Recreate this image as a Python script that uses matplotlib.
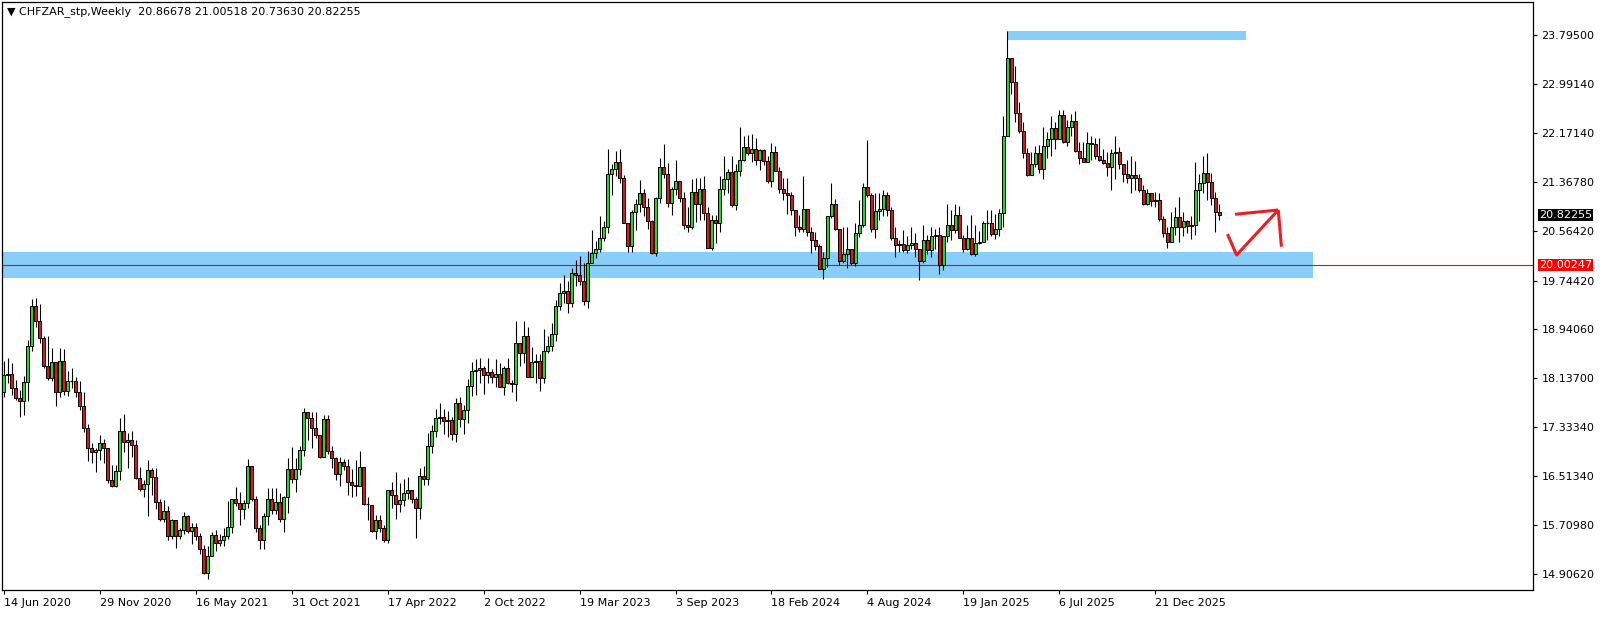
import matplotlib
matplotlib.use("Agg")
import matplotlib.pyplot as plt
from matplotlib.patches import Rectangle

# weekly candles, week 0 = 14 Jun 2020
FIRST_OPEN = 17.90
CLOSE = [
    18.18, 18.21, 17.97, 17.80, 17.76, 18.07, 18.66, 19.32, 19.08, 18.80,
    18.34, 18.14, 18.40, 17.90, 18.42, 17.93, 18.09, 18.08, 17.90, 17.68,
    17.32, 16.98, 16.92, 16.95, 17.06, 16.98, 16.45, 16.35, 16.60, 17.26,
    17.08, 17.11, 17.03, 16.49, 16.30, 16.39, 16.62, 16.50, 16.09, 15.82,
    15.94, 15.54, 15.80, 15.54, 15.63, 15.87, 15.62, 15.68, 15.54, 15.31,
    14.93, 15.21, 15.55, 15.42, 15.47, 15.53, 15.68, 16.14, 16.07, 15.97,
    16.07, 16.68, 16.15, 15.66, 15.47, 15.86, 16.15, 15.96, 16.09, 15.81,
    16.17, 16.63, 16.47, 16.63, 16.95, 17.57, 17.47, 17.32, 17.19, 16.83,
    17.46, 16.94, 16.81, 16.55, 16.75, 16.68, 16.43, 16.37, 16.35, 16.67,
    16.06, 16.05, 15.62, 15.80, 15.67, 15.47, 16.29, 16.21, 16.06, 16.13,
    16.24, 16.29, 16.14, 15.99, 16.52, 16.48, 17.02, 17.26, 17.47, 17.49,
    17.42, 17.44, 17.21, 17.72, 17.46, 17.61, 18.01, 18.25, 18.27, 18.31,
    18.19, 18.23, 18.15, 18.20, 17.99, 18.31, 18.06, 18.04, 18.71, 18.55,
    18.83, 18.16, 18.40, 18.42, 18.14, 18.58, 18.67, 18.86, 19.32, 19.54,
    19.57, 19.37, 19.87, 19.84, 19.74, 19.41, 20.03, 20.19, 20.26, 20.44,
    20.63, 21.50, 21.59, 21.69, 21.44, 20.69, 20.32, 20.87, 21.01, 21.18,
    20.96, 20.73, 20.19, 21.10, 21.61, 21.50, 21.03, 21.26, 21.39, 21.11,
    20.66, 20.63, 21.20, 21.01, 21.25, 20.86, 20.28, 20.75, 20.69, 21.25,
    21.41, 21.53, 20.99, 21.55, 21.73, 21.94, 21.84, 21.91, 21.73, 21.89,
    21.72, 21.39, 21.87, 21.55, 21.25, 21.19, 21.15, 20.90, 20.63, 20.60,
    20.92, 20.55, 20.41, 20.31, 19.94, 20.11, 20.80, 21.00, 20.59, 20.07,
    20.18, 20.26, 20.04, 20.52, 20.66, 21.28, 21.15, 20.60, 20.89, 20.92,
    21.15, 20.90, 20.44, 20.33, 20.35, 20.25, 20.33, 20.36, 20.26, 20.06,
    20.41, 20.24, 20.47, 20.49, 20.00, 20.47, 20.66, 20.57, 20.82, 20.45,
    20.27, 20.45, 20.18, 20.36, 20.38, 20.69, 20.70, 20.51, 20.59, 20.86,
    22.13, 23.41, 23.01, 22.51, 22.21, 21.85, 21.49, 21.66, 21.84, 21.58,
    21.97, 22.08, 22.26, 22.08, 22.47, 22.02, 22.27, 22.37, 21.88, 21.76,
    21.70, 22.01, 21.99, 21.79, 21.73, 21.68, 21.62, 21.84, 21.86, 21.66,
    21.50, 21.44, 21.48, 21.43, 21.24, 21.00, 21.18, 21.05, 21.07, 20.76,
    20.53, 20.38, 20.62, 20.79, 20.63, 20.73, 20.64, 20.66, 21.24, 21.36,
    21.51, 21.37, 21.11, 20.87, 20.82255,
]
HIGH = [
    18.42, 18.46, 18.38, 18.11, 17.94, 18.17, 18.77, 19.44, 19.45, 19.36,
    18.83, 18.83, 18.63, 18.40, 18.63, 18.61, 18.26, 18.30, 18.16, 18.08,
    17.90, 17.38, 17.06, 16.98, 17.20, 17.13, 16.98, 16.70, 16.70, 17.48,
    17.55, 17.23, 17.27, 17.12, 16.67, 16.46, 16.78, 16.65, 16.65, 16.15,
    16.12, 16.02, 15.82, 15.74, 15.66, 15.92, 15.88, 15.74, 15.74, 15.58,
    15.38, 15.36, 15.59, 15.63, 15.57, 15.66, 16.11, 16.15, 16.34, 16.25,
    16.13, 16.80, 16.69, 16.19, 15.71, 15.91, 16.32, 16.32, 16.33, 16.24,
    16.19, 16.81, 17.00, 16.81, 17.02, 17.65, 17.57, 17.57, 17.57, 17.20,
    17.53, 17.53, 17.02, 16.84, 16.84, 16.80, 16.80, 16.63, 16.79, 16.93,
    16.66, 16.18, 16.00, 15.88, 15.88, 15.71, 16.29, 16.42, 16.59, 16.40,
    16.47, 16.51, 16.22, 16.18, 16.65, 16.69, 17.23, 17.36, 17.62, 17.73,
    17.63, 17.59, 17.50, 17.80, 17.82, 17.69, 18.12, 18.40, 18.45, 18.46,
    18.34, 18.46, 18.28, 18.45, 18.38, 18.33, 18.47, 18.10, 19.08, 18.63,
    19.08, 18.98, 18.65, 18.54, 18.54, 18.94, 18.83, 19.05, 19.42, 19.70,
    19.84, 19.73, 19.95, 20.08, 20.15, 20.04, 20.23, 20.58, 20.40, 20.80,
    20.72, 21.91, 21.66, 21.88, 21.92, 21.48, 20.69, 20.91, 21.08, 21.40,
    21.26, 21.10, 20.75, 21.12, 21.76, 21.99, 21.68, 21.29, 21.73, 21.38,
    21.21, 20.96, 21.42, 21.43, 21.43, 21.46, 20.96, 20.82, 20.82, 21.46,
    21.79, 21.59, 21.79, 21.66, 22.27, 22.13, 22.14, 22.16, 22.09, 21.92,
    21.92, 21.79, 22.01, 21.96, 21.62, 21.43, 21.43, 21.21, 20.91, 20.82,
    21.47, 20.91, 20.63, 20.55, 20.34, 20.22, 20.81, 21.36, 21.08, 20.60,
    20.62, 20.63, 20.26, 20.69, 21.07, 21.36, 22.06, 21.18, 21.19, 21.18,
    21.24, 21.21, 20.95, 20.63, 20.41, 20.58, 20.47, 20.62, 20.52, 20.27,
    20.66, 20.49, 20.63, 20.60, 20.62, 20.47, 21.00, 20.91, 21.00, 20.97,
    20.50, 20.66, 20.82, 20.66, 20.56, 20.72, 20.90, 20.90, 20.84, 20.92,
    22.45, 23.86, 23.42, 23.28, 22.69, 22.35, 21.93, 21.87, 21.96, 21.98,
    22.27, 22.20, 22.46, 22.36, 22.55, 22.55, 22.39, 22.49, 22.54, 22.03,
    22.02, 22.19, 22.13, 22.10, 22.10, 21.91, 21.87, 21.91, 22.13, 21.94,
    21.63, 21.73, 21.80, 21.71, 21.50, 21.32, 21.26, 21.19, 21.21, 21.18,
    20.80, 20.62, 20.88, 20.96, 21.12, 20.88, 20.75, 20.81, 21.70, 21.50,
    21.80, 21.84, 21.51, 21.20, 21.00518,
]
LOW = [
    17.82, 18.05, 17.86, 17.78, 17.50, 17.53, 17.76, 18.59, 18.98, 18.72,
    18.30, 18.11, 18.09, 17.68, 17.82, 17.86, 17.84, 17.97, 17.82, 17.61,
    17.25, 16.77, 16.74, 16.59, 16.79, 16.73, 16.40, 16.34, 16.34, 16.46,
    16.92, 16.66, 16.83, 16.47, 16.28, 16.17, 15.87, 16.21, 15.98, 15.78,
    15.77, 15.46, 15.49, 15.33, 15.48, 15.56, 15.58, 15.40, 15.47, 15.23,
    14.91, 14.82, 15.20, 15.29, 15.37, 15.37, 15.49, 15.58, 16.02, 15.72,
    15.82, 16.00, 16.11, 15.60, 15.31, 15.31, 15.71, 15.90, 15.90, 15.77,
    15.60, 15.91, 16.41, 16.26, 16.54, 16.85, 17.11, 16.99, 17.14, 16.81,
    16.88, 16.88, 16.66, 16.46, 16.35, 16.62, 16.21, 16.18, 16.19, 16.47,
    16.04, 15.80, 15.60, 15.48, 15.59, 15.44, 15.41, 15.99, 15.82, 15.93,
    16.03, 16.14, 16.07, 15.50, 15.81, 16.37, 16.37, 16.90, 17.17, 17.38,
    17.22, 17.17, 17.12, 17.09, 17.33, 17.22, 17.40, 17.84, 17.86, 18.05,
    17.88, 18.05, 18.05, 17.99, 17.99, 17.86, 18.04, 17.91, 17.75, 18.33,
    18.39, 18.15, 18.15, 18.06, 17.93, 18.05, 18.55, 18.59, 18.74, 19.25,
    19.38, 19.21, 19.30, 19.65, 19.67, 19.34, 19.29, 20.03, 20.11, 20.21,
    20.40, 20.52, 21.15, 21.47, 21.35, 20.69, 20.21, 20.21, 20.58, 20.88,
    20.81, 20.59, 20.18, 20.15, 21.03, 21.44, 20.96, 20.82, 21.15, 21.04,
    20.59, 20.55, 20.59, 20.71, 20.74, 20.74, 20.28, 20.25, 20.36, 20.55,
    21.15, 21.18, 20.96, 20.90, 21.46, 21.72, 21.81, 21.70, 21.65, 21.57,
    21.65, 21.35, 21.29, 21.55, 21.18, 21.07, 20.84, 20.82, 20.48, 20.55,
    20.55, 20.48, 20.19, 20.25, 19.94, 19.77, 19.96, 20.77, 20.58, 20.00,
    20.03, 19.95, 20.00, 19.99, 20.46, 20.62, 21.12, 20.55, 20.44, 20.74,
    20.81, 20.80, 20.42, 20.13, 20.22, 20.22, 20.20, 20.26, 20.14, 19.75,
    20.04, 20.18, 20.14, 20.27, 19.85, 19.91, 20.38, 20.42, 20.53, 20.44,
    20.22, 20.24, 20.17, 20.15, 20.34, 20.41, 20.41, 20.48, 20.43, 20.48,
    20.62, 22.25, 22.82, 22.35, 22.17, 21.77, 21.46, 21.48, 21.62, 21.52,
    21.42, 21.77, 21.79, 21.92, 22.07, 22.01, 21.96, 22.13, 21.87, 21.66,
    21.70, 21.69, 21.73, 21.74, 21.71, 21.66, 21.46, 21.23, 21.41, 21.58,
    21.37, 21.35, 21.19, 21.23, 21.21, 20.99, 20.99, 20.97, 20.96, 20.73,
    20.46, 20.28, 20.39, 20.50, 20.38, 20.48, 20.52, 20.43, 20.50, 20.73,
    21.19, 21.07, 20.99, 20.55, 20.7363,
]

DATE_TICKS = [0, 24, 48, 72, 96, 120, 144, 168, 192, 216, 240, 264, 288]
DATE_LABELS = ["14 Jun 2020", "29 Nov 2020", "16 May 2021", "31 Oct 2021",
               "17 Apr 2022", "2 Oct 2022", "19 Mar 2023", "3 Sep 2023",
               "18 Feb 2024", "4 Aug 2024", "19 Jan 2025", "6 Jul 2025",
               "21 Dec 2025"]
PRICE_TICKS = [23.795, 22.9914, 22.1714, 21.3678, 20.5642, 19.7442,
               18.9406, 18.137, 17.3334, 16.5134, 15.7098, 14.9062]

TITLE = "CHFZAR_stp,Weekly  20.86678 21.00518 20.73630 20.82255"
LAST_PRICE = 20.82255
LEVEL = 20.00247

# drawn objects (week index, price)
ZONE = (19.79, 20.22, 327.5)          # low, high, right end
TOP_BOX = (251, 310.6, 23.71, 23.86)  # x0, x1, low, high
ARROW_X = [306.0, 308.3, 318.7]
ARROW_Y = [20.51, 20.165, 20.907]
HEAD1_X = [307.9, 318.7]
HEAD1_Y = [20.836, 20.907]
HEAD2_X = [318.7, 319.5]
HEAD2_Y = [20.907, 20.302]

BULL = "#33cc33"
BEAR = "#dd1515"
ZONE_C = "#87cefa"

W, H = 1604, 617
fig = plt.figure(figsize=(W / 100, H / 100), dpi=100, facecolor="white")
ax = fig.add_axes([2 / W, 1 - 590 / H, 1531 / W, 588 / H])
ax.set_xlim(-0.4, 382.4)
ax.set_ylim(14.642, 24.336)

# zones behind candles
ax.add_patch(Rectangle((-1, ZONE[0]), ZONE[2] + 1, ZONE[1] - ZONE[0],
                       facecolor=ZONE_C, edgecolor="none", zorder=0))
ax.add_patch(Rectangle((TOP_BOX[0], TOP_BOX[2]), TOP_BOX[1] - TOP_BOX[0],
                       TOP_BOX[3] - TOP_BOX[2],
                       facecolor=ZONE_C, edgecolor="none", zorder=0))
ax.axhline(LEVEL, color="#ff0000", lw=0.8, zorder=1)

opens = [FIRST_OPEN] + CLOSE[:-1]
for i, (o, c, hi, lo) in enumerate(zip(opens, CLOSE, HIGH, LOW)):
    top, bot = max(o, c), min(o, c)
    ax.vlines(i, min(lo, bot), max(hi, top), color="black", lw=0.8, zorder=2)
    if top - bot < 0.012:
        ax.hlines((o + c) / 2, i - 0.4, i + 0.4, color="black", lw=0.9, zorder=3)
        continue
    ax.add_patch(Rectangle((i - 0.38, bot), 0.76, top - bot,
                           facecolor=BULL if c > o else BEAR,
                           edgecolor="black", lw=0.7, zorder=3))

# hand-drawn arrow
for xs, ys in [(ARROW_X, ARROW_Y), (HEAD1_X, HEAD1_Y), (HEAD2_X, HEAD2_Y)]:
    ax.plot(xs, ys, color="#ee1c24", lw=2.2, solid_capstyle="butt", zorder=4)

for s in ax.spines.values():
    s.set_linewidth(0.9)

ax.set_xticks(DATE_TICKS)
ax.set_xticklabels(DATE_LABELS, ha="left", fontsize=8)
ax.tick_params(axis="x", direction="out", length=3, width=0.8, pad=3)
ax.yaxis.tick_right()
ax.set_yticks(PRICE_TICKS)
ax.set_yticklabels([f"{p:.5f}" for p in PRICE_TICKS], fontsize=8)
ax.tick_params(axis="y", direction="out", length=3, width=0.8, pad=3)

for price, bg in [(LAST_PRICE, "black"), (LEVEL, "#ff0000")]:
    ax.annotate(f"{price:.5f}", xy=(1, price), xycoords=("axes fraction", "data"),
                xytext=(6, 0), textcoords="offset pixels", va="center",
                ha="left", fontsize=8, color="white", zorder=10,
                annotation_clip=False,
                bbox=dict(boxstyle="square,pad=0.12", fc=bg, ec="none"))

fig.text(7 / W, 1 - 12 / H, "\u25bc " + TITLE, fontsize=8, va="center", ha="left")

fig.savefig("out.png", dpi=100, facecolor="white")
